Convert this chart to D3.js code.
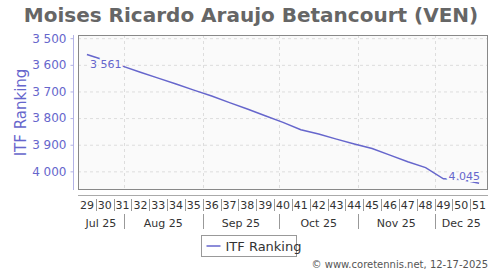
<!DOCTYPE html>
<html>
<head>
<meta charset="utf-8">
<script src="https://cdn.jsdelivr.net/npm/d3@7"></script>
<style>
  body { margin: 0; background: #fff; }
  svg { font-family: "DejaVu Sans", Verdana, sans-serif; }
</style>
</head>
<body>
<svg id="chart" width="500" height="270"></svg>
<script>
// ISO week numbers and ITF ranking
const weeks = [29, 30, 31, 32, 33, 34, 35, 36, 37, 38, 39, 40, 41, 42, 43, 44, 45, 46, 47, 48, 49, 50, 51];
const ranks = [3561, 3583, 3605, 3628, 3650, 3672, 3695, 3717, 3742, 3766, 3791, 3816, 3844, 3860, 3879, 3897, 3914, 3939, 3964, 3986, 4028, 4031, 4045];
const yTicks = [3500, 3600, 3700, 3800, 3900, 4000];
const monthLabels = ["Jul 25", "Aug 25", "Sep 25", "Oct 25", "Nov 25", "Dec 25"];

const purple = "#6666cc";
const svg = d3.select("#chart");
const plot = { left: 78, right: 488, top: 35, bottom: 190 };

// Monday of an ISO week in 2025 (week 1 starts Dec 30 2024)
function weekStart(w) {
    return d3.timeDay.offset(new Date(2024, 11, 30), (w - 1) * 7);
}
function weekMid(w) {
    return d3.timeHour.offset(weekStart(w), 84);
}

const x = d3.scaleTime()
    .domain([weekStart(29), weekStart(52)])
    .range([plot.left, plot.right]);
const y = d3.scaleLinear()
    .domain([3488, 4070])
    .range([plot.top, plot.bottom]);

const fmt = d3.formatLocale({ decimal: ".", thousands: " ", grouping: [3], currency: ["", ""] }).format(",");

// Title
svg.append("text")
    .attr("x", 251).attr("y", 22)
    .attr("text-anchor", "middle")
    .attr("font-size", 20).attr("font-weight", "bold")
    .attr("fill", "#666")
    .text("Moises Ricardo Araujo Betancourt (VEN)");

// Plot background
svg.append("rect")
    .attr("x", plot.left).attr("y", plot.top)
    .attr("width", plot.right - plot.left).attr("height", plot.bottom - plot.top)
    .attr("fill", "#fafafa");

// Horizontal grid
svg.append("g").selectAll("line")
    .data(yTicks)
    .join("line")
    .attr("x1", plot.left).attr("x2", plot.right)
    .attr("y1", d => y(d) + 0.5).attr("y2", d => y(d) + 0.5)
    .attr("stroke", "#dddddd").attr("stroke-dasharray", "3,3");

// Month boundaries inside the domain
const monthStarts = d3.timeMonth.range(x.domain()[0], x.domain()[1]);
svg.append("g").selectAll("line")
    .data(monthStarts)
    .join("line")
    .attr("x1", d => Math.round(x(d)) + 0.5).attr("x2", d => Math.round(x(d)) + 0.5)
    .attr("y1", plot.top).attr("y2", plot.bottom)
    .attr("stroke", "#dddddd").attr("stroke-dasharray", "3,3");

// Plot border
svg.append("rect")
    .attr("x", plot.left + 0.5).attr("y", plot.top + 0.5)
    .attr("width", plot.right - plot.left - 1).attr("height", plot.bottom - plot.top - 1)
    .attr("fill", "none").attr("stroke", "#888").attr("stroke-width", 1);

// Y axis
const yAxis = d3.axisLeft(y).tickValues(yTicks).tickFormat(fmt).tickSize(3).tickPadding(4);
const gy = svg.append("g")
    .attr("transform", "translate(73.5,0)")
    .call(yAxis);
gy.select(".domain").attr("stroke", "#b3b3e6").attr("d", `M0,${plot.top}V${plot.bottom}`);
gy.selectAll(".tick line").attr("stroke", "#b3b3e6");
gy.selectAll(".tick text")
    .attr("fill", purple).attr("font-size", 12)
    .attr("font-family", "DejaVu Sans, sans-serif");

svg.append("text")
    .attr("transform", `translate(26,${(plot.top + plot.bottom) / 2}) rotate(-90)`)
    .attr("text-anchor", "middle")
    .attr("font-size", 15)
    .attr("fill", purple)
    .text("ITF Ranking");

// X axis: line, week labels and separators
svg.append("line")
    .attr("x1", plot.left).attr("x2", plot.right)
    .attr("y1", 195.5).attr("y2", 195.5)
    .attr("stroke", "#aaa");

svg.append("g").selectAll("text")
    .data(weeks)
    .join("text")
    .attr("x", d => x(weekMid(d)))
    .attr("y", 209)
    .attr("text-anchor", "middle")
    .attr("font-size", 11)
    .attr("fill", "#333")
    .text(d => d);

svg.append("g").selectAll("line")
    .data(weeks.slice(1))
    .join("line")
    .attr("x1", d => Math.round(x(weekStart(d))) + 0.5).attr("x2", d => Math.round(x(weekStart(d))) + 0.5)
    .attr("y1", 199).attr("y2", 211)
    .attr("stroke", "#999");

// Month labels centred on the visible part of each month
const monthEdges = [x.domain()[0], ...monthStarts, x.domain()[1]];
svg.append("g").selectAll("text")
    .data(monthLabels)
    .join("text")
    .attr("x", (d, i) => (x(monthEdges[i]) + x(monthEdges[i + 1])) / 2)
    .attr("y", 227)
    .attr("text-anchor", "middle")
    .attr("font-size", 11)
    .attr("fill", "#333")
    .text(d => d);

svg.append("g").selectAll("line")
    .data(monthStarts)
    .join("line")
    .attr("x1", d => Math.round(x(d)) + 0.5).attr("x2", d => Math.round(x(d)) + 0.5)
    .attr("y1", 214).attr("y2", 229)
    .attr("stroke", "#999");

// Ranking line
const line = d3.line()
    .x((d, i) => x(weekMid(weeks[i])))
    .y(d => y(d));
svg.append("path")
    .datum(ranks)
    .attr("d", line)
    .attr("fill", "none")
    .attr("stroke", purple)
    .attr("stroke-width", 1.5);

// Data labels on first and last point, with a halo
const last = ranks.length - 1;
const labels = [
    { v: ranks[0], x: x(weekMid(weeks[0])) + 3, y: y(ranks[0]) + 14, anchor: "start" },
    { v: ranks[last], x: x(weekMid(weeks[last])) + 1, y: y(ranks[last]) - 3, anchor: "end" }
];
svg.append("g").selectAll("text")
    .data(labels)
    .join("text")
    .attr("x", d => d.x).attr("y", d => d.y)
    .attr("text-anchor", d => d.anchor)
    .attr("font-size", 11)
    .attr("fill", purple)
    .attr("stroke", "#fafafa").attr("stroke-width", 4)
    .attr("paint-order", "stroke")
    .text(d => fmt(d.v));

// Legend
const lg = svg.append("g").attr("transform", "translate(201.5,235.5)");
lg.append("rect")
    .attr("width", 95).attr("height", 21)
    .attr("fill", "#fff").attr("stroke", "#999");
lg.append("line")
    .attr("x1", 5).attr("x2", 19).attr("y1", 10.5).attr("y2", 10.5)
    .attr("stroke", purple).attr("stroke-width", 1.5);
lg.append("text")
    .attr("x", 24).attr("y", 15)
    .attr("font-size", 13)
    .attr("fill", "#333")
    .text("ITF Ranking");

// Footer
svg.append("text")
    .attr("x", 488).attr("y", 268)
    .attr("text-anchor", "end")
    .attr("font-size", 10)
    .attr("fill", "#555")
    .text("\u00a9 www.coretennis.net, 12-17-2025");
</script>
</body>
</html>
